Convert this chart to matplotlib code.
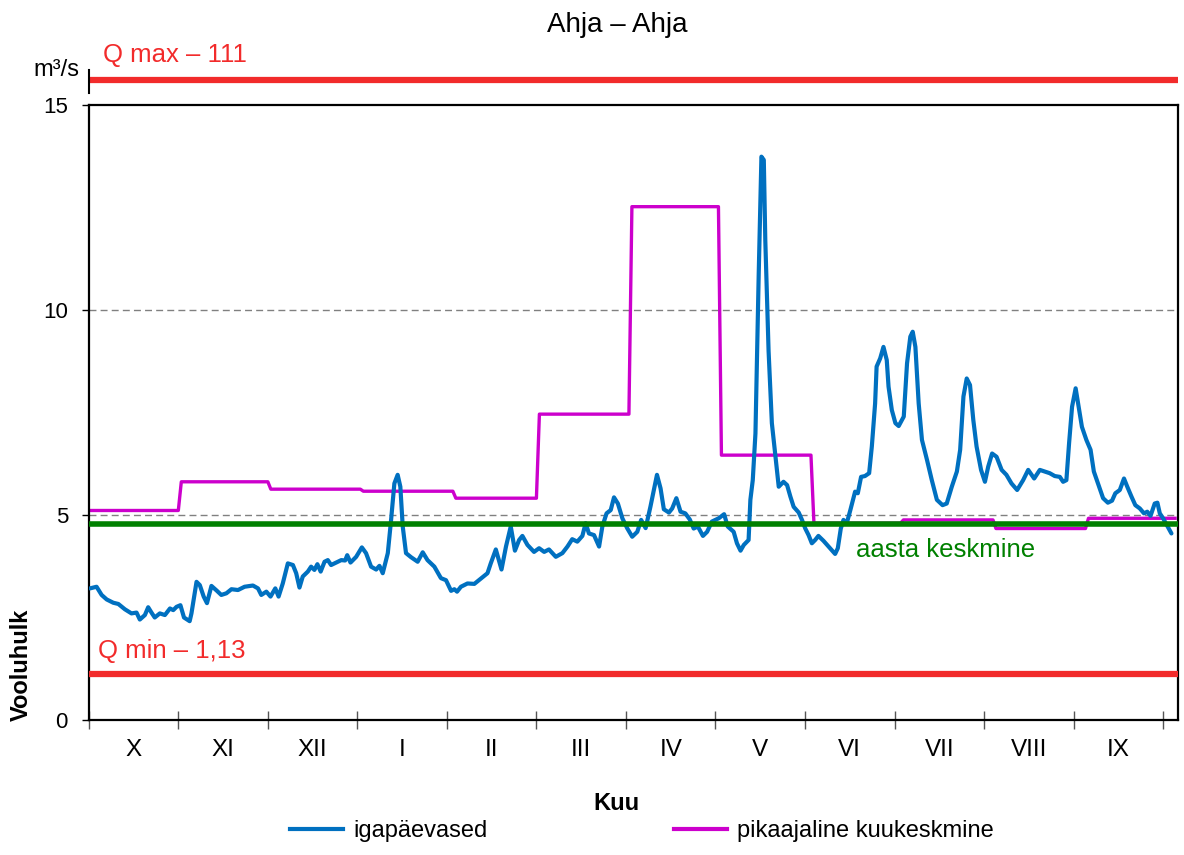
import numpy as np
import matplotlib
matplotlib.use("Agg")
import matplotlib.pyplot as plt
from matplotlib.lines import Line2D

plt.rcParams['font.family'] = ['Liberation Sans', 'DejaVu Sans']

# ----- data (hydrological year X..IX)
month_names = ["X", "XI", "XII", "I", "II", "III", "IV", "V", "VI", "VII", "VIII", "IX"]
month_days = [31, 30, 31, 31, 28, 31, 30, 31, 30, 31, 31, 30]
month_means = [5.11, 5.81, 5.63, 5.58, 5.41, 7.46, 12.52, 6.46, 4.80, 4.88, 4.67, 4.92]

year_mean = 4.78
q_min = 1.13
q_max = 111

flow_days = [
    0.4, 2.6, 4.3, 6.0, 8.2, 9.9, 12.1, 14.3, 16.0, 17.1, 18.8, 19.9, 21.0, 22.1, 23.8,
    25.5, 27.2, 28.3, 29.4, 30.7, 31.9, 33.8, 34.4, 36.1, 37.2, 38.5, 39.6, 41.1, 42.8,
    44.4, 46.1, 47.8, 50.0, 52.2, 55.0, 56.7, 57.8, 59.5, 60.9, 62.5, 63.6, 65.0, 66.7,
    68.4, 69.5, 70.6, 71.7, 73.4, 74.5, 75.6, 76.6, 77.7, 79.0, 80.1, 81.2, 82.9, 84.6,
    85.9, 86.6, 87.7, 89.6, 91.5, 92.9, 94.6, 96.3, 97.4, 98.5, 100.2, 101.3, 102.4,
    103.5, 104.4, 105.2, 106.3, 108.0, 110.2, 111.9, 113.5, 115.8, 118.0, 119.7, 121.4,
    122.5, 123.4, 124.7, 126.9, 129.2, 131.4, 133.6, 134.7, 136.4, 138.3, 139.8, 141.4,
    142.8, 144.2, 145.3, 147.0, 149.2, 150.9, 152.6, 154.2, 156.5, 158.7, 160.4, 162.0,
    163.7, 165.4, 166.5, 167.6, 169.3, 171.0, 172.1, 173.5, 174.9, 176.0, 177.3, 178.8,
    180.4, 182.1, 183.8, 185.1, 186.6, 188.2, 190.4, 191.6, 192.7, 194.4, 195.5, 196.9,
    198.3, 199.9, 201.4, 202.7, 204.1, 205.8, 207.2, 208.8, 211.1, 212.9, 214.1, 216.1,
    217.2, 218.4, 219.5, 221.1, 221.7, 222.5, 223.4, 224.5, 225.4, 226.2, 226.7, 227.8,
    228.9, 230.0, 231.2, 232.8, 234.0, 235.1, 236.2, 237.9, 239.0, 240.1, 241.2, 242.3,
    243.4, 244.5, 246.2, 247.9, 250.1, 251.0, 252.0, 252.9, 254.0, 255.2, 256.8, 257.7,
    258.8, 260.1, 261.5, 262.4, 263.5, 264.0, 265.2, 266.3, 267.4, 268.0, 269.1, 270.3,
    271.4, 273.1, 274.2, 275.3, 276.1, 277.0, 278.1, 279.2, 280.9, 282.5, 284.2, 286.1,
    287.5, 289.2, 290.9, 292.0, 293.1, 294.2, 295.3, 296.4, 297.5, 299.0, 300.3, 301.4,
    302.7, 304.2, 305.9, 307.5, 309.2, 311.1, 313.1, 314.8, 316.8, 318.7, 320.4, 322.0,
    323.7, 325.4, 326.5, 327.6, 328.5, 329.5, 330.7, 331.7, 332.8, 334.3, 335.7, 336.8,
    338.2, 339.9, 341.5, 342.9, 344.0, 345.5, 346.9, 348.0, 349.4, 350.7, 352.2, 353.6,
    354.7, 355.8, 357.2, 358.1, 358.9, 360.0, 361.5, 362.8,
]
flow_values = [
    3.21, 3.25, 3.05, 2.94, 2.86, 2.83, 2.70, 2.60, 2.62, 2.45, 2.56, 2.75, 2.62, 2.50, 2.60,
    2.56, 2.72, 2.68, 2.76, 2.80, 2.50, 2.41, 2.60, 3.37, 3.29, 3.01, 2.85, 3.27, 3.16,
    3.05, 3.09, 3.19, 3.17, 3.25, 3.28, 3.21, 3.05, 3.13, 3.01, 3.21, 3.01, 3.33, 3.82,
    3.78, 3.58, 3.23, 3.50, 3.62, 3.74, 3.66, 3.80, 3.62, 3.86, 3.90, 3.78, 3.84, 3.90,
    3.89, 4.02, 3.84, 3.98, 4.21, 4.07, 3.74, 3.67, 3.76, 3.58, 4.07, 4.88, 5.77,
    5.98, 5.69, 4.72, 4.07, 3.97, 3.86, 4.09, 3.90, 3.74, 3.46, 3.41, 3.15,
    3.19, 3.13, 3.25, 3.33, 3.32, 3.45, 3.58, 3.82, 4.16, 3.67, 4.23, 4.72,
    4.13, 4.39, 4.49, 4.27, 4.10, 4.19, 4.10, 4.16, 3.98, 4.07, 4.23, 4.41,
    4.35, 4.49, 4.80, 4.55, 4.51, 4.23, 4.72, 5.04, 5.12, 5.43, 5.28, 4.92,
    4.68, 4.47, 4.59, 4.88, 4.68, 5.20, 5.98, 5.65, 5.14, 5.06, 5.16, 5.41,
    5.08, 5.04, 4.89, 4.67, 4.72, 4.49, 4.59, 4.84, 4.92, 5.02, 4.72, 4.59,
    4.31, 4.13, 4.27, 4.39, 5.37, 5.85, 6.99, 10.9, 13.74, 13.66, 11.7, 9.0,
    7.24, 6.50, 5.69, 5.81, 5.73, 5.45, 5.20, 5.06, 4.88, 4.67, 4.51, 4.31,
    4.39, 4.49, 4.37, 4.23, 4.05, 4.19, 4.67, 4.88, 4.80, 5.12, 5.57, 5.53,
    5.93, 5.95, 6.02, 6.67, 7.72, 8.62, 8.82, 9.10, 8.78, 8.13, 7.56, 7.24,
    7.17, 7.40, 8.70, 9.35, 9.47, 9.10, 7.72, 6.83, 6.34, 5.85, 5.37, 5.24,
    5.28, 5.69, 6.06, 6.59, 7.89, 8.33, 8.17, 7.32, 6.67, 6.10, 5.81, 6.18,
    6.50, 6.42, 6.10, 5.98, 5.77, 5.61, 5.85, 6.10, 5.89, 6.10, 6.06, 6.02,
    5.95, 5.93, 5.81, 5.85, 6.75, 7.64, 8.09, 7.64, 7.15, 6.83, 6.59, 6.06,
    5.77, 5.41, 5.30, 5.35, 5.53, 5.61, 5.89, 5.69, 5.45, 5.24, 5.16, 5.04,
    5.08, 4.98, 5.28, 5.30, 5.04, 4.92, 4.72, 4.55,
]

BLUE = "#0070C0"
MAGENTA = "#CC00CC"
GREEN = "#008000"
RED = "#F22B2B"

# long-term monthly mean as a daily step series
n_days = sum(month_days)
monthly_daily = np.repeat(month_means, month_days)
days = np.arange(n_days)

fig = plt.figure(figsize=(11.84, 8.55), dpi=100)
W, H = 1184, 855
ax = fig.add_axes([88.8 / W, 1 - 720 / H, (1178 - 88.8) / W, 615 / H])

ax.set_xlim(0, n_days)
ax.set_ylim(0, 15)

# ----- grid (only dashed lines at 5 and 10)
for yv in (5, 10):
    ax.axhline(yv, color="#808080", lw=1, ls=(0, (5, 3)), zorder=1)

ax.plot(days, monthly_daily, color=MAGENTA, lw=2.4, zorder=2)
ax.plot(flow_days, flow_values, color=BLUE, lw=3, zorder=3,
        solid_joinstyle="round", solid_capstyle="round")
ax.axhline(year_mean, color=GREEN, lw=4, zorder=4)
ax.axhline(q_min, color=RED, lw=4.5, zorder=5)

# Q max is off the scale -> drawn above the plot area
ax.plot([0, 1], [1.0407, 1.0407], transform=ax.transAxes, color=RED, lw=4.5,
        clip_on=False, solid_capstyle="butt")
ax.plot([0, 0], [1.0195, 1.057], transform=ax.transAxes, color="black", lw=1.5,
        clip_on=False)

# ----- axes style
for sp in ax.spines.values():
    sp.set_linewidth(1.6)
    sp.set_color("black")

ax.set_yticks([0, 5, 10, 15])
ax.tick_params(axis="y", direction="out", length=5, width=1, labelsize=16, pad=10)

ax.set_xticks(np.arange(0, 361, 30))
ax.set_xticklabels([])
ax.tick_params(axis="x", which="major", direction="inout", length=13, width=1,
               color="#555555")
ax.set_xticks(np.arange(15, 360, 30), minor=True)
ax.set_xticklabels(month_names, minor=True)
ax.tick_params(axis="x", which="minor", length=0, labelsize=17.5, pad=14)

# ----- texts
fig.text(617 / W, 1 - 32 / H, "Ahja \u2013 Ahja", ha="center", va="baseline", size=20)
fig.text(79 / W, 1 - 76 / H, "m\u00b3/s", ha="right", va="baseline", size=17)
fig.text(103 / W, 1 - 62 / H, f"Q max \u2013 {q_max}", color=RED, ha="left",
         va="baseline", size=18.5)
fig.text(98 / W, 1 - 658 / H, "Q min \u2013 " + f"{q_min:.2f}".replace(".", ","),
         color=RED, ha="left", va="baseline", size=18.5)
fig.text(856 / W, 1 - 557 / H, "aasta keskmine", color=GREEN, ha="left",
         va="baseline", size=18.5)
fig.text(21 / W, 1 - 665 / H, "Vooluhulk", rotation=90, ha="center", va="center",
         size=17, weight="bold")
fig.text(616 / W, 1 - 810 / H, "Kuu", ha="center", va="baseline", size=17,
         weight="bold")

handles = [Line2D([], [], color=BLUE, lw=3), Line2D([], [], color=MAGENTA, lw=3)]
fig.legend(handles, ["igapäevased", "pikaajaline kuukeskmine"], loc="center",
           bbox_to_anchor=(642 / W, 1 - 831 / H), ncol=2, frameon=False,
           fontsize=17, handlelength=2.25, handletextpad=0.42, columnspacing=7.9)

fig.savefig("out.png", dpi=100)
